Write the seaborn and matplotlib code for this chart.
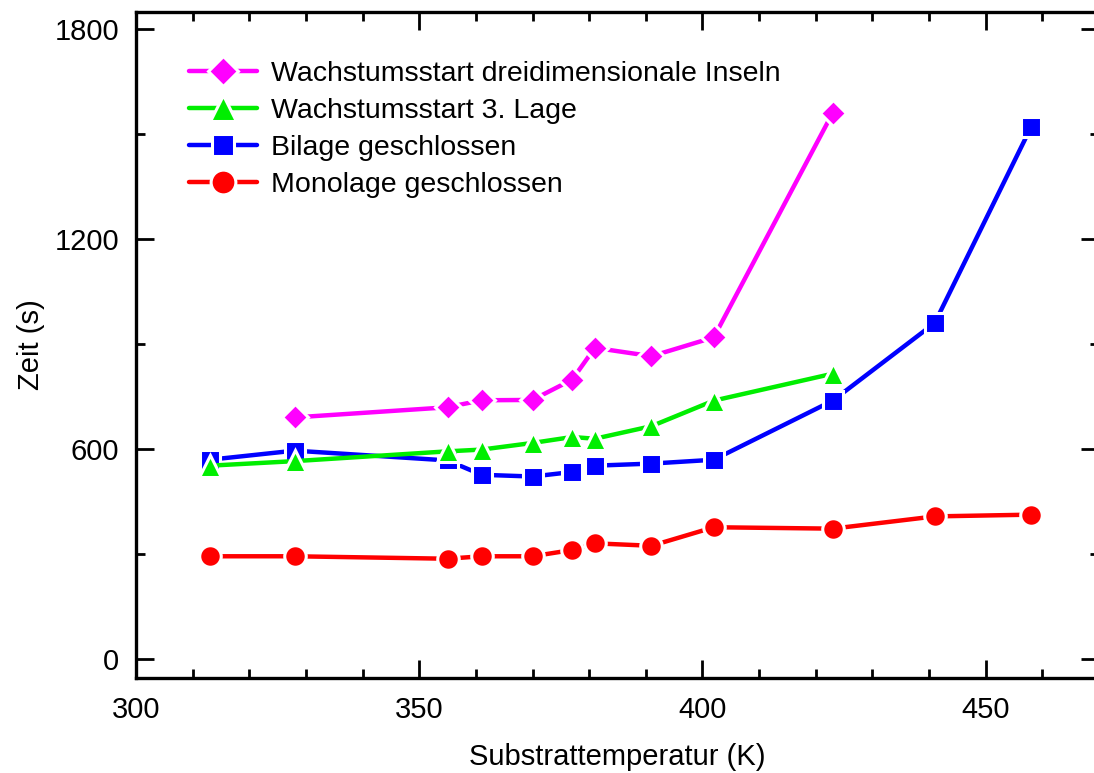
import matplotlib
matplotlib.use("Agg")
import matplotlib.pyplot as plt
import seaborn as sns
import pandas as pd
from matplotlib.ticker import MultipleLocator

# --- datos ---
temp_all = [313, 328, 355, 361, 370, 377, 381, 391, 402, 423, 441, 458]
monolage = [293, 293, 286, 293, 293, 311, 330, 323, 376, 372, 407, 412]
bilage = [569, 595, 567, 526, 521, 534, 552, 558, 569, 738, 960, 1520]

temp_lage3 = [313, 328, 355, 361, 370, 377, 381, 391, 402, 423]
lage3 = [552, 565, 593, 598, 617, 634, 629, 665, 738, 815]

temp_inseln = [328, 355, 361, 370, 377, 381, 391, 402, 423]
inseln = [690, 719, 739, 740, 798, 889, 865, 919, 1561]

labels = ["Wachstumsstart dreidimensionale Inseln", "Wachstumsstart 3. Lage",
          "Bilage geschlossen", "Monolage geschlossen"]

sns.set_theme(style="white")
plt.rcParams['font.family'] = ['Liberation Sans', 'DejaVu Sans']
plt.rcParams['text.color'] = 'black'
plt.rcParams['axes.labelcolor'] = 'black'

fig = plt.figure(figsize=(10.94, 7.73), dpi=100)
ax = fig.add_axes([0.1243, 0.1229, 0.8803, 0.862])

series = [
    (temp_all, monolage, labels[3], "#ff0000", "o", 15.5),
    (temp_all, bilage, labels[2], "#0000ff", "s", 14),
    (temp_lage3, lage3, labels[1], "#00ee00", "^", 16),
    (temp_inseln, inseln, labels[0], "#ff00ff", "D", 13.5),
]
for x, y, lab, col, mk, ms in series:
    df = pd.DataFrame({"T": x, "t": y})
    sns.lineplot(data=df, x="T", y="t", ax=ax, color=col, marker=mk, markersize=ms,
                 linewidth=3.2, markeredgecolor="white", markeredgewidth=2.2,
                 label=lab, sort=False)

ax.set_xlim(300, 470)
ax.set_ylim(-55, 1850)
ax.xaxis.set_major_locator(MultipleLocator(50))
ax.xaxis.set_minor_locator(MultipleLocator(10))
ax.yaxis.set_major_locator(MultipleLocator(600))
ax.yaxis.set_minor_locator(MultipleLocator(300))

ax.tick_params(which="both", direction="in", top=True, right=True, bottom=True, left=True,
               width=2, colors="black", labelsize=21)
ax.tick_params(which="major", length=13)
ax.tick_params(which="minor", length=6.5)
ax.tick_params(axis="x", which="major", pad=13)
ax.tick_params(axis="y", which="major", pad=12)
for s in ax.spines.values():
    s.set_linewidth(2.4)
    s.set_color("black")

ax.set_xlabel("Substrattemperatur (K)", fontsize=21, labelpad=14)
ax.set_ylabel("Zeit (s)", fontsize=21, labelpad=7)

h, l = ax.get_legend_handles_labels()
order = [l.index(lab) for lab in labels]
ax.legend([h[i] for i in order], [l[i] for i in order], loc="upper left",
          bbox_to_anchor=(0.043, 0.943), frameon=False, fontsize=20.5, markerscale=1.15,
          handlelength=2.4, handletextpad=0.5, labelspacing=0.38, borderaxespad=0)

fig.savefig("out.png", dpi=100)
